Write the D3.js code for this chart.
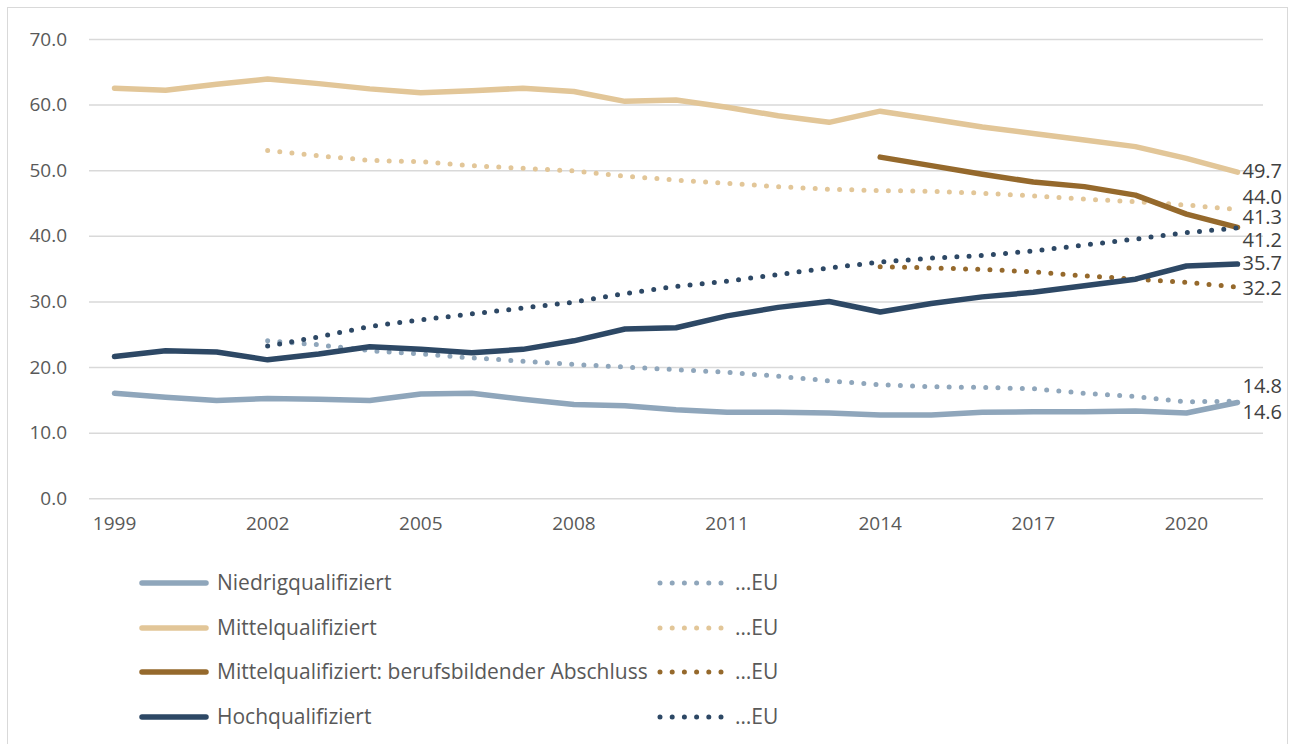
<!DOCTYPE html>
<html>
<head>
<meta charset="utf-8">
<script src="https://cdn.jsdelivr.net/npm/d3@7"></script>
<style>
  body { margin: 0; background: #fff; }
  svg { font-family: "Open Sans", Lato, sans-serif; }
</style>
</head>
<body>
<svg id="chart" width="1293" height="744"></svg>
<script>
// data (shares in %)
const years = d3.range(1999, 2022);
const tickYears = [1999, 2002, 2005, 2008, 2011, 2014, 2017, 2020];
const yTicks = [0, 10, 20, 30, 40, 50, 60, 70];

const niedrig = [16.0, 15.4, 14.9, 15.2, 15.1, 14.9, 15.9, 16.0, 15.1, 14.3, 14.1, 13.5, 13.1, 13.1, 13.0, 12.7, 12.7, 13.1, 13.2, 13.2, 13.3, 13.0, 14.6];
const niedrigEU = [null, null, null, 24.0, 23.4, 22.5, 22.0, 21.4, 20.9, 20.4, 20.0, 19.6, 19.2, 18.6, 17.9, 17.3, 17.0, 16.9, 16.7, 16.0, 15.5, 14.7, 14.8];
const mittel = [62.5, 62.2, 63.1, 63.9, 63.2, 62.4, 61.8, 62.1, 62.5, 62.0, 60.5, 60.7, 59.6, 58.3, 57.3, 59.0, 57.8, 56.6, 55.6, 54.6, 53.6, 51.8, 49.7];
const mittelEU = [null, null, null, 53.0, 52.2, 51.5, 51.3, 50.7, 50.3, 49.9, 49.1, 48.5, 48.0, 47.5, 47.1, 46.9, 46.8, 46.5, 46.1, 45.6, 45.2, 44.7, 44.0];
const beruf = [null, null, null, null, null, null, null, null, null, null, null, null, null, null, null, 52.0, 50.7, 49.4, 48.2, 47.5, 46.2, 43.3, 41.3];
const berufEU = [null, null, null, null, null, null, null, null, null, null, null, null, null, null, null, 35.3, 35.1, 34.9, 34.5, 33.9, 33.4, 32.9, 32.2];
const hoch = [21.6, 22.5, 22.3, 21.1, 22.0, 23.1, 22.7, 22.2, 22.7, 24.0, 25.8, 26.0, 27.8, 29.1, 30.0, 28.4, 29.7, 30.7, 31.4, 32.4, 33.4, 35.4, 35.7];
const hochEU = [null, null, null, 23.2, 24.6, 26.2, 27.2, 28.1, 29.0, 29.9, 31.2, 32.3, 33.1, 34.1, 35.1, 36.0, 36.6, 37.0, 37.7, 38.6, 39.5, 40.5, 41.2];

const seriesNames = ["Niedrigqualifiziert", "Mittelqualifiziert", "Mittelqualifiziert: berufsbildender Abschluss", "Hochqualifiziert"];
const colors = ["#8fa6bb", "#e2c698", "#95692c", "#2d4865"];

// labelDy nudges the end labels apart, like the reference does
const series = [
  {values: niedrig, color: colors[0], dotted: false, labelDy: 9},
  {values: niedrigEU, color: colors[0], dotted: true, labelDy: -15},
  {values: mittel, color: colors[1], dotted: false, labelDy: -1},
  {values: mittelEU, color: colors[1], dotted: true, labelDy: -13},
  {values: beruf, color: colors[2], dotted: false, labelDy: -10},
  {values: berufEU, color: colors[2], dotted: true, labelDy: 1},
  {values: hoch, color: colors[3], dotted: false, labelDy: -1},
  {values: hochEU, color: colors[3], dotted: true, labelDy: 12}
];

const svg = d3.select("#chart");

// outer frame
svg.append("rect")
    .attr("x", 7.5).attr("y", 7.5)
    .attr("width", 1280).attr("height", 760)
    .attr("fill", "none")
    .attr("stroke", "#d9d9d9")
    .attr("stroke-width", 1);

const x = d3.scaleBand()
    .domain(years)
    .range([89, 1263])
    .padding(0);
const cx = d => x(d) + x.bandwidth() / 2;

const y = d3.scaleLinear()
    .domain([0, 70])
    .range([498.3, 39]);

// y axis with gridlines
const yAxis = svg.append("g")
    .attr("transform", "translate(89,0)")
    .call(d3.axisLeft(y).tickValues(yTicks).tickSize(-1174).tickPadding(22).tickFormat(d3.format(".1f")));
yAxis.select(".domain").remove();
yAxis.selectAll(".tick line")
    .attr("stroke", "#d9d9d9")
    .attr("stroke-width", 1.5);
yAxis.selectAll(".tick text")
    .attr("fill", "#595959")
    .attr("font-size", 19)
    .attr("font-family", "'Open Sans', sans-serif");

// x axis (labels only)
const xAxis = svg.append("g")
    .attr("transform", "translate(0,498.3)")
    .call(d3.axisBottom(x).tickValues(tickYears).tickSize(0).tickPadding(18));
xAxis.select(".domain").remove();
xAxis.selectAll(".tick text")
    .attr("fill", "#595959")
    .attr("font-size", 19)
    .attr("font-family", "'Open Sans', sans-serif");

const line = d3.line()
    .defined(d => d.v != null)
    .x(d => cx(d.year))
    .y(d => y(d.v));

series.forEach(s => {
  const pts = years.map((yr, i) => ({year: yr, v: s.values[i]}));
  svg.append("path")
      .datum(pts)
      .attr("fill", "none")
      .attr("stroke", s.color)
      .attr("stroke-width", s.dotted ? 5 : 5.5)
      .attr("stroke-linecap", "round")
      .attr("stroke-linejoin", "round")
      .attr("stroke-dasharray", s.dotted ? "0 12.2" : null)
      .attr("d", line);

  const last = pts[pts.length - 1];
  svg.append("text")
      .attr("x", cx(last.year) + 5)
      .attr("y", y(last.v) + s.labelDy)
      .attr("dy", "0.35em")
      .attr("fill", "#404040")
      .attr("font-size", 20)
      .text(d3.format(".1f")(last.v));
});

// legend
const legendRows = [583, 628, 672, 717];
seriesNames.forEach((name, i) => {
  const ly = legendRows[i];
  svg.append("line")
      .attr("x1", 142).attr("x2", 206)
      .attr("y1", ly).attr("y2", ly)
      .attr("stroke", colors[i])
      .attr("stroke-width", 5.5)
      .attr("stroke-linecap", "round");
  svg.append("text")
      .attr("x", 217).attr("y", ly)
      .attr("dy", "0.35em")
      .attr("fill", "#595959")
      .attr("font-size", 21)
      .text(name);
  svg.append("line")
      .attr("x1", 660).attr("x2", 722)
      .attr("y1", ly).attr("y2", ly)
      .attr("stroke", colors[i])
      .attr("stroke-width", 5)
      .attr("stroke-linecap", "round")
      .attr("stroke-dasharray", "0 12.2");
  svg.append("text")
      .attr("x", 735).attr("y", ly)
      .attr("dy", "0.35em")
      .attr("fill", "#595959")
      .attr("font-size", 21)
      .text("…EU");
});
</script>
</body>
</html>
